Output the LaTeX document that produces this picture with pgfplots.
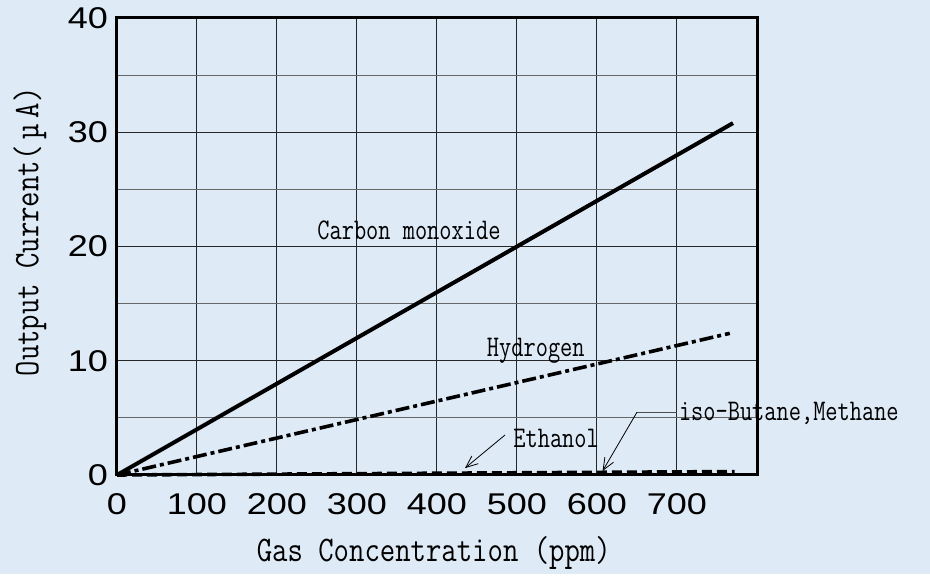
\documentclass[border=0pt]{standalone}
\usepackage{fontspec}
\usepackage{pgfplots}
\pgfplotsset{compat=1.18}
\usetikzlibrary{arrows.meta}

\newfontfamily\tickfont[FakeStretch=1.2]{Liberation Sans}
\newfontfamily\labfont[FakeStretch=0.83]{Latin Modern Mono}
\newfontfamily\notefont[FakeStretch=0.79]{Latin Modern Mono}
\definecolor{bgblue}{RGB}{222,234,246}

\begin{document}
\begin{tikzpicture}
% background, 1px = 0.5pt, axis origin at (0,0)
\fill[bgblue] (-58.5pt,-49.5pt) rectangle (406.5pt,237.5pt);
\begin{axis}[
    at={(0,0)}, anchor=south west,
    scale only axis,
    width=320pt, height=228.5pt,
    xmin=0, xmax=800, ymin=0, ymax=40,
    xtick={0,100,...,700},
    ytick={0,10,...,40},
    minor ytick={5,15,25,35},
    grid=both,
    major grid style={black!85, line width=0.5pt},
    minor grid style={black!60, line width=0.5pt},
    major tick length=0pt, minor tick length=0pt,
    axis line style={line width=1.5pt},
    /pgf/number format/assume math mode=true,
    ticklabel style={font=\tickfont\fontsize{15}{17}\selectfont},
    xticklabel style={yshift=-5.5pt},
    yticklabel style={xshift=-1pt},
    xlabel={Gas Concentration (ppm)},
    ylabel={Output Current(\,µ\,A)},
    xlabel style={at={(axis description cs:0.495,-0.171)}, anchor=center,
        font=\labfont\fontsize{18}{20}\selectfont},
    ylabel style={at={(axis description cs:-0.136,0.532)}, anchor=center,
        font=\labfont\fontsize{18}{20}\selectfont},
    clip=false,
]
% Carbon monoxide
\addplot[black, line width=2pt] coordinates {(0,0) (770,30.8)};
% Hydrogen
\addplot[black, line width=1.8pt, dash pattern=on 7pt off 2pt on 2pt off 2pt]
    coordinates {(0,0) (766,12.4)};
% Ethanol
\addplot[black, line width=1.8pt, dash pattern=on 5pt off 2.5pt]
    coordinates {(0,0) (772,0.3)};
% iso-Butane, Methane
\addplot[black, line width=0.6pt, dash pattern=on 3pt off 1pt]
    coordinates {(0,0) (770,0.08)};

\tikzset{lab/.style={font=\notefont\fontsize{15}{17}\selectfont, anchor=west, inner sep=0pt}}
\node[lab] at (axis cs:250,21.4) {Carbon monoxide};
\node[lab] at (axis cs:462,10.9) {Hydrogen};
\node[lab] at (axis cs:495,3.2) {Ethanol};
\node[lab] at (axis cs:702,5.4) {iso-Butane,Methane};
\draw[black, line width=0.4pt, -{Straight Barb[length=6pt,width=5pt]}]
    (axis cs:485,3.5) -- (axis cs:435,0.6);
\draw[black!70, line width=0.6pt] (axis cs:700,5.5) -- (axis cs:650,5.5);
\draw[black, line width=0.4pt, -{Straight Barb[length=6pt,width=5pt]}]
    (axis cs:650,5.5) -- (axis cs:607,0.35);
\end{axis}
\end{tikzpicture}
\end{document}
